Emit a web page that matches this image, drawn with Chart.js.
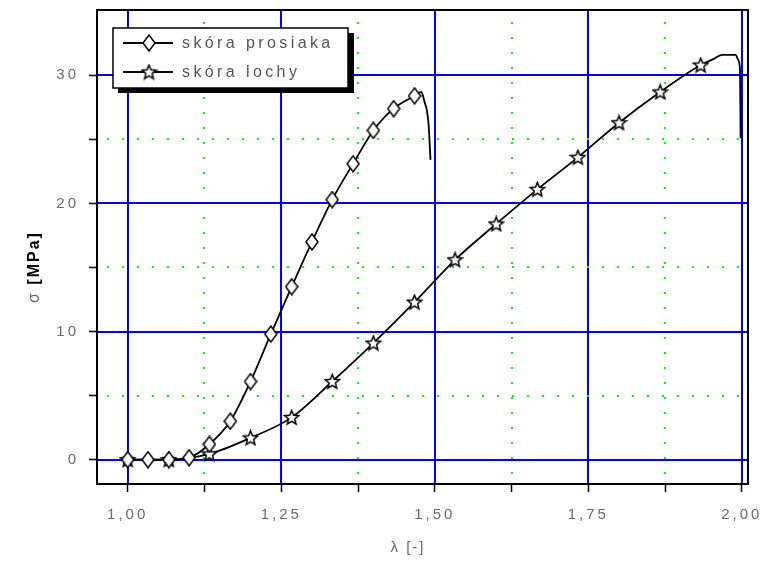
<!DOCTYPE html>
<html>
<head>
<meta charset="utf-8">
<script src="https://cdn.jsdelivr.net/npm/chart.js@4"></script>
<style>
  body { margin: 0; background: #fff; }
</style>
</head>
<body>
<canvas id="chart" width="770" height="562"></canvas>
<script>
// skóra prosiaka - points with markers
const prosiakaX = [1.000, 1.033, 1.067, 1.100, 1.133, 1.167, 1.200, 1.233, 1.267, 1.300, 1.333, 1.367, 1.400, 1.433, 1.467];
const prosiakaY = [0, 0, 0, 0.15, 1.2, 3.0, 6.1, 9.8, 13.5, 17.0, 20.3, 23.1, 25.7, 27.4, 28.4];
// end of the curve (no markers)
const prosiakaTailX = [1.478, 1.484, 1.487, 1.490, 1.493];
const prosiakaTailY = [28.7, 27.8, 27.3, 26.1, 23.4];

// skóra lochy
const lochyX = [1.000, 1.067, 1.133, 1.200, 1.267, 1.333, 1.400, 1.467, 1.533, 1.600, 1.667, 1.733, 1.800, 1.867, 1.933];
const lochyY = [0, 0, 0.45, 1.7, 3.3, 6.1, 9.1, 12.3, 15.6, 18.4, 21.1, 23.6, 26.3, 28.7, 30.8];
const lochyTailX = [1.955, 1.968, 1.990, 1.994, 1.997, 1.998];
const lochyTailY = [31.3, 31.6, 31.6, 31.2, 30.4, 25.1];

const seriesNames = ["skóra prosiaka", "skóra lochy"];

const xTicks = [1.0, 1.125, 1.25, 1.375, 1.5, 1.625, 1.75, 1.875, 2.0];
const yTicks = [0, 5, 10, 15, 20, 25, 30];

function makeDiamond() {
  const c = document.createElement("canvas");
  c.width = 14; c.height = 18;
  const g = c.getContext("2d");
  g.beginPath();
  g.moveTo(7, 1); g.lineTo(13, 9); g.lineTo(7, 17); g.lineTo(1, 9);
  g.closePath();
  g.fillStyle = "#fff"; g.fill();
  g.lineWidth = 1.5; g.strokeStyle = "#000"; g.stroke();
  return c;
}

function makeStar() {
  const c = document.createElement("canvas");
  c.width = 17; c.height = 17;
  const g = c.getContext("2d");
  g.beginPath();
  for (let i = 0; i < 10; i++) {
    const r = i % 2 ? 3.3 : 7.5;
    const a = -Math.PI / 2 + i * Math.PI / 5;
    const px = 8.5 + r * Math.cos(a), py = 9 + r * Math.sin(a);
    if (i === 0) g.moveTo(px, py); else g.lineTo(px, py);
  }
  g.closePath();
  g.fillStyle = "#fff"; g.fill();
  g.lineWidth = 1.5; g.strokeStyle = "#000"; g.stroke();
  return c;
}

const diamond = makeDiamond();
const star = makeStar();

function toPoints(xs, ys) {
  return xs.map((x, i) => ({ x: x, y: ys[i] }));
}

const prosiakaData = toPoints(prosiakaX, prosiakaY).concat(toPoints(prosiakaTailX, prosiakaTailY));
const lochyData = toPoints(lochyX, lochyY).concat(toPoints(lochyTailX, lochyTailY));

const isMajorX = v => Math.abs(v * 4 - Math.round(v * 4)) < 1e-6;

// blue grid at majors, green dots at minors, black frame
const gridPlugin = {
  id: "grid",
  beforeDraw(chart) {
    chart.ctx.letterSpacing = "3px";
  },
  beforeDatasetsDraw(chart) {
    const { ctx, chartArea: a, scales: { x, y } } = chart;
    ctx.save();
    xTicks.forEach(v => {
      const px = Math.round(x.getPixelForValue(v));
      if (isMajorX(v)) {
        ctx.fillStyle = "#0000ff";
        ctx.fillRect(px - 1, a.top, 2, a.bottom - a.top);
      } else {
        ctx.fillStyle = "#00ff00";
        for (let py = a.bottom - 12; py > a.top; py -= 15) ctx.fillRect(px - 1, py, 2, 2);
      }
    });
    yTicks.forEach(v => {
      const py = Math.round(y.getPixelForValue(v));
      if (v % 10 === 0) {
        ctx.fillStyle = "#0000ff";
        ctx.fillRect(a.left, py - 1, a.right - a.left, 2);
      } else {
        ctx.fillStyle = "#00ff00";
        for (let px = a.left + 10; px < a.right; px += 15) ctx.fillRect(px, py - 1, 2, 2);
      }
    });
    ctx.restore();
  },
  afterDatasetsDraw(chart) {
    const { ctx, chartArea: a } = chart;
    ctx.save();
    ctx.strokeStyle = "#000";
    ctx.lineWidth = 2;
    ctx.strokeRect(a.left, a.top, a.right - a.left, a.bottom - a.top);
    ctx.restore();
  },
  afterDraw(chart) {
    const ctx = chart.ctx;
    ctx.save();
    // legend box with shadow
    ctx.fillStyle = "#000";
    ctx.fillRect(118, 33, 236, 60);
    ctx.fillStyle = "#fff";
    ctx.fillRect(113, 28, 235, 60);
    ctx.strokeStyle = "#000";
    ctx.lineWidth = 1.5;
    ctx.strokeRect(113, 28, 235, 60);
    const rows = [[43, diamond], [72, star]];
    ctx.font = "16px 'Liberation Sans', Arial, sans-serif";
    ctx.letterSpacing = "3.4px";
    ctx.textBaseline = "middle";
    rows.forEach((r, i) => {
      ctx.strokeStyle = "#000";
      ctx.lineWidth = 1.8;
      ctx.beginPath();
      ctx.moveTo(123, r[0]); ctx.lineTo(173, r[0]);
      ctx.stroke();
      ctx.drawImage(r[1], 149 - r[1].width / 2, r[0] - r[1].height / 2);
      ctx.fillStyle = "#555";
      ctx.fillText(seriesNames[i], 182, r[0] + 1);
    });
    // axis titles
    ctx.letterSpacing = "2px";
    ctx.textAlign = "center";
    ctx.fillStyle = "#6a6a6a";
    ctx.font = "15px 'Liberation Sans', Arial, sans-serif";
    ctx.fillText("λ [-]", 408, 548);
    ctx.translate(35, 303);
    ctx.rotate(-Math.PI / 2);
    ctx.textAlign = "left";
    ctx.font = "16px 'Liberation Sans', Arial, sans-serif";
    ctx.fillText("σ ", 0, 0);
    const w = ctx.measureText("σ ").width;
    ctx.fillStyle = "#000";
    ctx.font = "bold 16px 'Liberation Sans', Arial, sans-serif";
    ctx.fillText("[MPa]", w, 0);
    ctx.restore();
  }
};

new Chart(document.getElementById("chart"), {
  type: "line",
  data: {
    datasets: [
      {
        label: seriesNames[0],
        data: prosiakaData,
        borderColor: "#000",
        borderWidth: 1.8,
        cubicInterpolationMode: "monotone",
        pointStyle: diamond,
        pointRadius: prosiakaData.map((p, i) => i < prosiakaX.length ? 7 : 0)
      },
      {
        label: seriesNames[1],
        data: lochyData,
        borderColor: "#000",
        borderWidth: 1.8,
        cubicInterpolationMode: "monotone",
        pointStyle: star,
        pointRadius: lochyData.map((p, i) => i < lochyX.length ? 7 : 0)
      }
    ]
  },
  options: {
    responsive: false,
    animation: false,
    layout: { padding: { top: 10, right: 22, left: 0, bottom: 0 } },
    plugins: { legend: { display: false }, tooltip: { enabled: false } },
    scales: {
      x: {
        type: "linear",
        min: 0.95,
        max: 2.01,
        afterBuildTicks: s => { s.ticks = xTicks.map(v => ({ value: v })); },
        afterFit: s => { s.height = 78; s.paddingLeft = 0; s.paddingRight = 0; },
        border: { display: false },
        grid: { drawOnChartArea: false, tickLength: 8, tickColor: "#000", tickWidth: 1.5 },
        ticks: {
          autoSkip: false,
          maxRotation: 0,
          padding: 14,
          color: "#6a6a6a",
          font: { family: "'Liberation Sans', Arial, sans-serif", size: 15 },
          callback: v => isMajorX(v) ? v.toFixed(2).replace(".", ",") : ""
        }
      },
      y: {
        type: "linear",
        min: -1.9,
        max: 35.1,
        afterBuildTicks: s => { s.ticks = yTicks.map(v => ({ value: v })); },
        afterFit: s => { s.width = 97; s.paddingTop = 0; s.paddingBottom = 0; },
        border: { display: false },
        grid: { drawOnChartArea: false, tickLength: 8, tickColor: "#000", tickWidth: 1.5 },
        ticks: {
          padding: 10,
          color: "#6a6a6a",
          font: { family: "'Liberation Sans', Arial, sans-serif", size: 15 },
          callback: v => v % 10 === 0 ? String(v) : ""
        }
      }
    }
  },
  plugins: [gridPlugin]
});
</script>
</body>
</html>
